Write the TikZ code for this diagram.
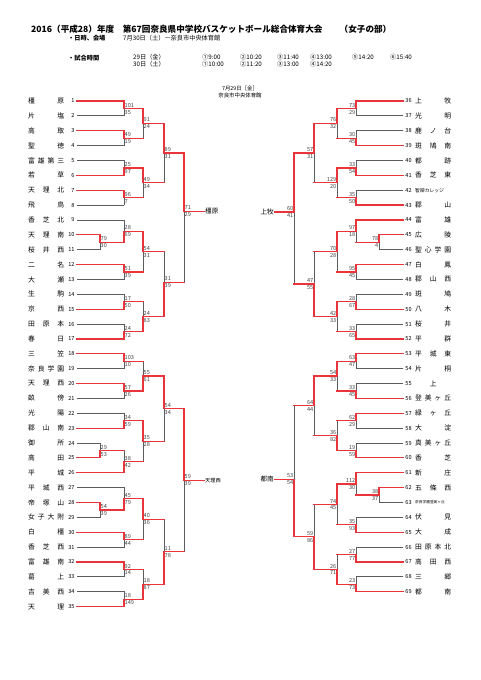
\documentclass[tikz,border=0pt]{standalone}
\usepackage{fontspec}
\setmainfont{Noto Sans CJK JP}
\usepackage{xcolor}
\usepackage{tikz}
\usetikzlibrary{calc}
\definecolor{winred}{HTML}{E8343A}
\definecolor{losegray}{HTML}{5C5C5C}
\definecolor{scoregray}{HTML}{444444}

\tikzset{
  winline/.style={draw=winred, line width=1.2pt, line cap=rect},
  loseline/.style={draw=losegray, line width=0.8pt, line cap=rect},
  teamname/.style={inner sep=0pt, font=\fontsize{6.8}{7}\selectfont},
  teamno/.style={inner xsep=2.2pt, inner ysep=0pt, font=\fontsize{5.6}{6}\selectfont},
  score/.style={inner sep=0.5pt, text=scoregray, font=\fontsize{5.6}{6}\selectfont},
  hdr/.style={inner sep=0pt, anchor=west, font=\fontsize{6.2}{7}\selectfont},
  winnerlabel/.style={inner sep=1pt, font=\fontsize{6.6}{7}\selectfont},
}

% one game: [where the outlet sits], id, upper entry, lower entry, column, upper score, lower score, winner (u/l)
\newcommand{\bout}[8][.5]{%
  \coordinate (#2u) at (#3 -| #5);
  \coordinate (#2l) at (#4 -| #5);
  \coordinate (#2) at ($(#2u)!#1!(#2l)$);
  \if u#8
    \draw[loseline] (#2) -- (#2l);
    \draw[winline] (#4) -- (#2l);
    \draw[winline] (#3) -- (#2u) -- (#2);
  \else
    \draw[loseline] (#2u) -- (#2);
    \draw[winline] (#3) -- (#2u);
    \draw[winline] (#4) -- (#2l) -- (#2);
  \fi
  \node[hiscore] (#2s1) at (#2) {#6};
  \node[loscore] (#2s2) at (#2) {#7};
}

\begin{document}
\begin{tikzpicture}[x=1pt, y=-1pt]
  \path[fill=white, use as bounding box] (0,0) rectangle (481,680);

  % header
  \node[anchor=west, inner sep=0pt, font=\bfseries\fontsize{8.6}{9}\selectfont] (title) at (31,29)
    {2016（平成28）年度　第67回奈良県中学校バスケットボール総合体育大会　　（女子の部）};
  \node[hdr, font=\bfseries\fontsize{6.2}{7}\selectfont] (venuehd) at (68,38) {・日時、会場};
  \node[hdr] (venue) at (123,38) {7月30日（土）－奈良市中央体育館};
  \node[hdr, font=\bfseries\fontsize{6.2}{7}\selectfont] (timehd) at (68,58) {・試合時間};
  \node[hdr] (day1) at (133,57) {29日（金）};
  \node[hdr] (day2) at (133,64) {30日（土）};
  \node[hdr] (slotA1) at (202,57) {①9:00};
  \node[hdr] (slotA2) at (240,57) {②10:20};
  \node[hdr] (slotA3) at (277,57) {③11:40};
  \node[hdr] (slotA4) at (310,57) {④13:00};
  \node[hdr] (slotA5) at (352,57) {⑤14:20};
  \node[hdr] (slotA6) at (390,57) {⑥15:40};
  \node[hdr] (slotB1) at (202,64) {①10:00};
  \node[hdr] (slotB2) at (240,64) {②11:20};
  \node[hdr] (slotB3) at (277,64) {③13:00};
  \node[hdr] (slotB4) at (310,64) {④14:20};
  \node[inner sep=0pt, font=\fontsize{5.4}{6}\selectfont] (date) at (240,88) {7月29日［金］};
  \node[inner sep=0pt, font=\fontsize{5.4}{6}\selectfont] (hall) at (240,95) {奈良市中央体育館};

  % columns
  \coordinate (lc0) at (100,0);
  \coordinate (lc1) at (124,0);
  \coordinate (lc2) at (143,0);
  \coordinate (lc3) at (164,0);
  \coordinate (lc4) at (184,0);
  \coordinate (lc5) at (204,0);
  \coordinate (rc0) at (379,0);
  \coordinate (rc1) at (356,0);
  \coordinate (rc2) at (337,0);
  \coordinate (rc3) at (314,0);
  \coordinate (rc4) at (294,0);
  \coordinate (rc5) at (275,0);

  % left half
  \foreach \i/\nm/\col/\w in {1/橿 原/lc1/1, 2/片 塩/lc1/0, 3/高 取/lc1/1, 4/聖 徳/lc1/0,
      5/富 雄 第 三/lc1/0, 6/若 草/lc1/1, 7/天 理 北/lc1/1, 8/飛 鳥/lc1/0,
      9/香 芝 北/lc1/0, 10/天 理 南/lc0/1, 11/桜 井 西/lc0/0, 12/二 名/lc1/1,
      13/大 瀬/lc1/0, 14/生 駒/lc1/0, 15/京 西/lc1/1, 16/田 原 本/lc1/0,
      17/春 日/lc1/1, 18/三 笠/lc1/1, 19/奈 良 学 園/lc1/0, 20/天 理 西/lc1/1,
      21/畝 傍/lc1/0, 22/光 陽/lc1/0, 23/郡 山 南/lc1/1, 24/御 所/lc0/0,
      25/高 田/lc0/1, 26/平 城/lc1/1, 27/平 城 西/lc1/0, 28/帝 塚 山/lc0/1,
      29/女 子 大 附/lc0/0, 30/白 橿/lc1/1, 31/香 芝 西/lc1/0, 32/富 雄 南/lc1/1,
      33/葛 上/lc1/0, 34/吉 美 西/lc1/0, 35/天 理/lc1/1} {
    \pgfmathsetmacro{\yy}{101+(\i-1)*14.87}
    \node[teamname, anchor=west] (t\i) at (28,\yy) {\makebox[36pt][s]{\nm}};
    \node[teamno, anchor=east] (n\i) at (77,\yy) {\i};
    \coordinate (e\i) at (n\i.east -| \col);
    \ifnum\w=1 \draw[winline] (n\i.east) -- (e\i); \else \draw[loseline] (n\i.east) -- (e\i); \fi
  }

  \begin{scope}[hiscore/.style={score, anchor=south west, yshift=0.6pt},
                loscore/.style={score, anchor=north west, yshift=-0.8pt}]
    \bout{l1}{e1}{e2}{lc1}{101}{35}{u}
    \bout{l2}{e3}{e4}{lc1}{49}{19}{u}
    \bout{l3}{l1}{l2}{lc2}{91}{24}{u}
    \bout{l4}{e5}{e6}{lc1}{25}{97}{l}
    \bout{l5}{e7}{e8}{lc1}{96}{7}{u}
    \bout{l6}{l4}{l5}{lc2}{49}{34}{u}
    \bout{l7}{l3}{l6}{lc3}{89}{31}{u}
    \bout{lp1}{e10}{e11}{lc0}{79}{30}{u}
    \bout{l8}{e9}{lp1}{lc1}{28}{69}{l}
    \bout{l9}{e12}{e13}{lc1}{51}{39}{u}
    \bout{l10}{l8}{l9}{lc2}{54}{31}{u}
    \bout{l11}{e14}{e15}{lc1}{17}{50}{l}
    \bout{l12}{e16}{e17}{lc1}{24}{72}{l}
    \bout{l13}{l11}{l12}{lc2}{24}{83}{l}
    \bout[.47]{l14}{l10}{l13}{lc3}{31}{39}{l}
    \bout[.45]{l15}{l7}{l14}{lc4}{71}{29}{u}
    \bout{l16}{e18}{e19}{lc1}{103}{10}{u}
    \bout{l17}{e20}{e21}{lc1}{57}{26}{u}
    \bout{l18}{l16}{l17}{lc2}{55}{61}{l}
    \bout{l19}{e22}{e23}{lc1}{34}{59}{l}
    \bout{lp2}{e24}{e25}{lc0}{29}{53}{l}
    \bout{l20}{lp2}{e26}{lc1}{38}{42}{l}
    \bout{l21}{l19}{l20}{lc2}{35}{28}{u}
    \bout{l22}{l18}{l21}{lc3}{54}{34}{u}
    \bout{lp3}{e28}{e29}{lc0}{54}{39}{u}
    \bout{l23}{e27}{lp3}{lc1}{45}{79}{l}
    \bout{l24}{e30}{e31}{lc1}{89}{44}{u}
    \bout{l25}{l23}{l24}{lc2}{40}{36}{u}
    \bout{l26}{e32}{e33}{lc1}{92}{14}{u}
    \bout{l27}{e34}{e35}{lc1}{18}{149}{l}
    \bout{l28}{l26}{l27}{lc2}{18}{87}{l}
    \bout{l29}{l25}{l28}{lc3}{11}{78}{l}
    \bout{l30}{l22}{l29}{lc4}{59}{39}{u}
  \end{scope}

  \node[winnerlabel, anchor=west] (champA) at (l15 -| lc5) {橿原};
  \draw[winline] (l15) -- (champA.west);
  \node[winnerlabel, anchor=west, font=\fontsize{5.2}{6}\selectfont] (champB) at (l30 -| lc5) {天理西};
  \draw[winline] (l30) -- (champB.west);

  % right half
  \foreach \i/\nm/\col/\w in {36/上 牧/rc1/1, 37/光 明/rc1/0, 38/鹿 ノ 台/rc1/0, 39/斑 鳩 南/rc1/1,
      40/都 跡/rc1/0, 41/香 芝 東/rc1/1, 42/{\fontsize{4.8}{5}\selectfont 智辯カレッジ}/rc1/0, 43/郡 山/rc1/1,
      44/富 雄/rc1/1, 45/広 陵/rc0/1, 46/聖 心 学 園/rc0/0, 47/白 鳳/rc1/1,
      48/郡 山 西/rc1/0, 49/斑 鳩/rc1/0, 50/八 木/rc1/1, 51/桜 井/rc1/0,
      52/平 群/rc1/1, 53/平 城 東/rc1/1, 54/片 桐/rc1/0, 55/{\hfill 上\hfill}/rc1/0,
      56/登 美 ヶ 丘/rc1/1, 57/緑 ヶ 丘/rc1/1, 58/大 淀/rc1/0, 59/真 美 ヶ 丘/rc1/0,
      60/香 芝/rc1/1, 61/新 庄/rc1/1, 62/五 條 西/rc0/1, 63/{\fontsize{3.7}{4}\selectfont 奈良学園登美ヶ丘}/rc0/0,
      64/伏 見/rc1/0, 65/大 成/rc1/1, 66/田 原 本 北/rc1/0, 67/高 田 西/rc1/1,
      68/三 郷/rc1/0, 69/都 南/rc1/1} {
    \pgfmathsetmacro{\yy}{101+(\i-36)*14.87}
    \node[teamname, anchor=west] (t\i) at (415,\yy) {\makebox[36pt][s]{\nm}};
    \node[teamno, anchor=west] (n\i) at (403,\yy) {\i};
    \coordinate (e\i) at (n\i.west -| \col);
    \ifnum\w=1 \draw[winline] (n\i.west) -- (e\i); \else \draw[loseline] (n\i.west) -- (e\i); \fi
  }

  \begin{scope}[hiscore/.style={score, anchor=south east, yshift=0.6pt},
                loscore/.style={score, anchor=north east, yshift=-0.8pt}]
    \bout{r1}{e36}{e37}{rc1}{73}{29}{u}
    \bout{r2}{e38}{e39}{rc1}{30}{45}{l}
    \bout{r3}{r1}{r2}{rc2}{76}{32}{u}
    \bout{r4}{e40}{e41}{rc1}{33}{54}{l}
    \bout{r5}{e42}{e43}{rc1}{35}{50}{l}
    \bout{r6}{r4}{r5}{rc2}{129}{20}{u}
    \bout{r7}{r3}{r6}{rc3}{57}{31}{u}
    \bout{rp1}{e45}{e46}{rc0}{78}{4}{u}
    \bout{r8}{e44}{rp1}{rc1}{97}{18}{u}
    \bout{r9}{e47}{e48}{rc1}{95}{45}{u}
    \bout{r10}{r8}{r9}{rc2}{70}{28}{u}
    \bout{r11}{e49}{e50}{rc1}{28}{67}{l}
    \bout{r12}{e51}{e52}{rc1}{33}{65}{l}
    \bout{r13}{r11}{r12}{rc2}{42}{33}{u}
    \bout{r14}{r10}{r13}{rc3}{47}{55}{l}
    \bout[.45]{r15}{r7}{r14}{rc4}{60}{41}{u}
    \bout{r16}{e53}{e54}{rc1}{63}{47}{u}
    \bout{r17}{e55}{e56}{rc1}{33}{45}{l}
    \bout{r18}{r16}{r17}{rc2}{54}{33}{u}
    \bout{r19}{e57}{e58}{rc1}{62}{29}{u}
    \bout{r20}{e59}{e60}{rc1}{19}{59}{l}
    \bout{r21}{r19}{r20}{rc2}{36}{82}{l}
    \bout{r22}{r18}{r21}{rc3}{64}{44}{u}
    \bout{rp2}{e62}{e63}{rc0}{38}{37}{u}
    \bout{r23}{e61}{rp2}{rc1}{112}{30}{u}
    \bout{r24}{e64}{e65}{rc1}{35}{93}{l}
    \bout{r25}{r23}{r24}{rc2}{74}{45}{u}
    \bout{r26}{e66}{e67}{rc1}{27}{77}{l}
    \bout{r27}{e68}{e69}{rc1}{23}{73}{l}
    \bout{r28}{r26}{r27}{rc2}{26}{71}{l}
    \bout{r29}{r25}{r28}{rc3}{59}{86}{l}
    \bout[.56]{r30}{r22}{r29}{rc4}{53}{54}{l}
  \end{scope}

  \node[winnerlabel, anchor=east] (champC) at (r15 -| rc5) {上牧};
  \draw[winline] (r15) -- (champC.east);
  \node[winnerlabel, anchor=east] (champD) at (r30 -| rc5) {都南};
  \draw[winline] (r30) -- (champD.east);
\end{tikzpicture}
\end{document}
